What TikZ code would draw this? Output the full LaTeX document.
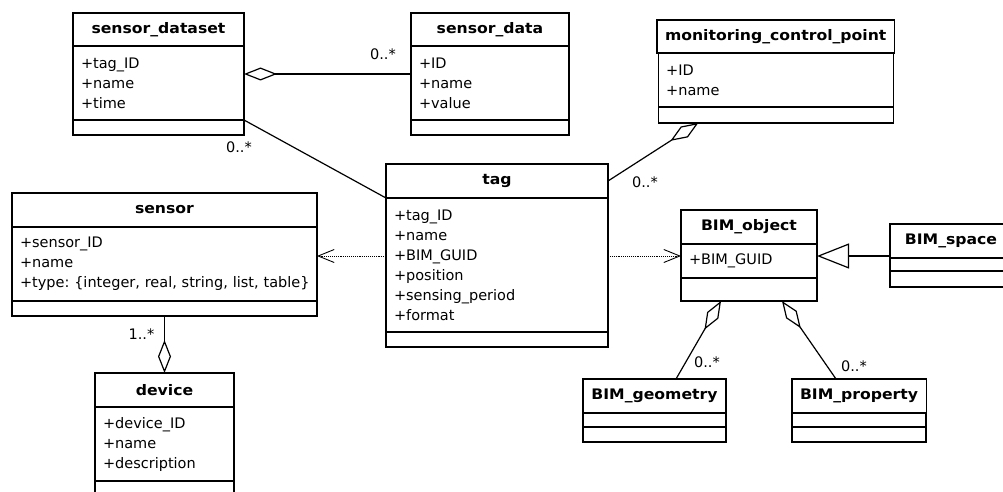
\documentclass[tikz,border=0pt]{standalone}
\usepackage{fontspec}
\setmainfont{DejaVu Sans}[BoldFeatures={FakeStretch=1.08}]
\usetikzlibrary{arrows.meta, positioning}

\begin{document}
\begin{tikzpicture}[
    x=1pt, y=-1pt,
    font=\fontsize{14.5}{20}\selectfont\frenchspacing,
    head/.style={rectangle, draw, line width=1.2pt, outer sep=0pt, inner xsep=8pt, inner ysep=2pt, align=center, font=\fontsize{14.5}{20}\selectfont\bfseries},
    attr/.style={rectangle, draw, line width=1.2pt, outer sep=0pt, inner xsep=8pt, inner ysep=2pt, align=left},
    agg/.style={{Diamond[open, length=33pt, width=13pt]}-, line width=1.2pt},
    dep/.style={-{Straight Barb[length=16pt, width=13pt]}, densely dotted, line width=0.9pt},
    gen/.style={-{Triangle[open, length=32pt, width=25pt]}, line width=1.2pt}
]
\useasboundingbox (0,0) rectangle (1003,492);

% sensor_dataset
\node[head, minimum width=171pt, minimum height=33pt, anchor=north west] (dataset) at (73,13) {sensor\_dataset};
\node[attr, text width=155pt, minimum height=74pt, below=0pt of dataset] (dataset-a) {+tag\_ID\\+name\\+time};
\node[attr, minimum width=171pt, minimum height=15pt, below=0pt of dataset-a] (dataset-o) {};

% sensor_data
\node[head, minimum width=158pt, minimum height=33pt, anchor=north west] (data) at (411,13) {sensor\_data};
\node[attr, text width=142pt, minimum height=74pt, below=0pt of data] (data-a) {+ID\\+name\\+value};
\node[attr, minimum width=158pt, minimum height=15pt, below=0pt of data-a] (data-o) {};

% monitoring_control_point
\node[head, minimum width=235pt, minimum height=33pt, anchor=north west] (mcp) at (657,20) {monitoring\_control\_point};
\node[attr, text width=219pt, minimum height=54pt, below=0pt of mcp] (mcp-a) {+ID\\+name};
\node[attr, minimum width=235pt, minimum height=16pt, below=0pt of mcp-a] (mcp-o) {};

% tag
\node[head, minimum width=222pt, minimum height=34pt, anchor=north west] (tag) at (386,164) {tag};
\node[attr, text width=206pt, minimum height=134pt, below=0pt of tag] (tag-a) {+tag\_ID\\+name\\+BIM\_GUID\\+position\\+sensing\_period\\+format};
\node[attr, minimum width=222pt, minimum height=15pt, below=0pt of tag-a] (tag-o) {};

% sensor
\node[head, minimum width=305pt, minimum height=34pt, anchor=north west] (sensor) at (12,193) {sensor};
\node[attr, text width=289pt, minimum height=74pt, below=0pt of sensor] (sensor-a) {+sensor\_ID\\+name\\\mbox{+type: \{integer, real, string, list, table\}}};
\node[attr, minimum width=305pt, minimum height=15pt, below=0pt of sensor-a] (sensor-o) {};

% device
\node[head, minimum width=139pt, minimum height=34pt, anchor=north west] (device) at (95,373) {device};
\node[attr, text width=123pt, minimum height=74pt, below=0pt of device] (device-a) {+device\_ID\\+name\\+description};
\node[attr, minimum width=139pt, minimum height=15pt, below=0pt of device-a] (device-o) {};

% BIM classes
\node[head, minimum width=136pt, minimum height=34pt, anchor=north west] (bimobj) at (681,210) {BIM\_object};
\node[attr, text width=120pt, minimum height=34pt, below=0pt of bimobj] (bimobj-a) {+BIM\_GUID};
\node[attr, minimum width=136pt, minimum height=23pt, below=0pt of bimobj-a] (bimobj-o) {};

\node[head, minimum width=122pt, minimum height=34pt, anchor=north west] (bimspace) at (890,224) {BIM\_space};
\node[attr, minimum width=122pt, minimum height=13pt, below=0pt of bimspace] (bimspace-a) {};
\node[attr, minimum width=122pt, minimum height=16pt, below=0pt of bimspace-a] (bimspace-o) {};

\node[head, minimum width=143pt, minimum height=34pt, anchor=north west] (bimgeo) at (583,379) {BIM\_geometry};
\node[attr, minimum width=143pt, minimum height=14pt, below=0pt of bimgeo] (bimgeo-a) {};
\node[attr, minimum width=143pt, minimum height=15pt, below=0pt of bimgeo-a] (bimgeo-o) {};

\node[head, minimum width=134pt, minimum height=34pt, anchor=north west] (bimprop) at (792,379) {BIM\_property};
\node[attr, minimum width=134pt, minimum height=14pt, below=0pt of bimprop] (bimprop-a) {};
\node[attr, minimum width=134pt, minimum height=15pt, below=0pt of bimprop-a] (bimprop-o) {};

% Associations
\draw[agg] ([yshift=9pt]dataset-a.east) -- ([yshift=9pt]data-a.west) node[pos=1, xshift=-28pt, yshift=20pt] {0..*};
\draw[line width=1.2pt] (dataset-a.south east) -- (tag.south west) node[pos=0, xshift=-5pt, yshift=-27pt] {0..*};
\draw[agg] ([xshift=40pt]mcp-o.south west) -- (tag.east) node[pos=1, xshift=37pt, yshift=-1pt] {0..*};
\draw[agg] (device.north) -- (sensor-o.south) node[pos=1, xshift=-23pt, yshift=-18pt] {1..*};
\draw[agg] ([xshift=40pt]bimobj-o.south west) -- ([xshift=93pt]bimgeo.north west) node[pos=1, xshift=31pt, yshift=17pt] {0..*};
\draw[agg] ([xshift=-35pt]bimobj-o.south east) -- ([xshift=44pt]bimprop.north west) node[pos=1, xshift=18pt, yshift=13pt] {0..*};

% Dependencies and generalization
\draw[dep] ([yshift=9pt]tag-a.west) -- ([yshift=9pt]tag-a.west -| sensor-a.east);
\draw[dep] ([yshift=9pt]tag-a.east) -- ([yshift=9pt]tag-a.east -| bimobj-a.west);
\draw[gen] ([yshift=2pt]bimspace.south west) -- ([yshift=2pt]bimspace.south west -| bimobj-a.east);

\end{tikzpicture}
\end{document}
